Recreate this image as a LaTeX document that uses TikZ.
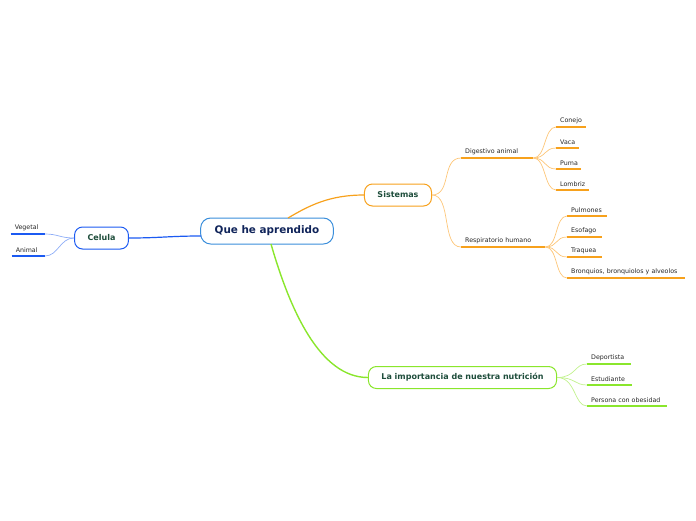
\documentclass[tikz,border=0pt]{standalone}
\usepackage{fontspec}
\setmainfont{DejaVu Sans}
\definecolor{mainblue}{HTML}{3A8EDB}
\definecolor{navy}{HTML}{10245A}
\definecolor{dkgreen}{HTML}{1E4D3B}
\definecolor{orng}{HTML}{F7A11C}
\definecolor{lorng}{HTML}{FDC678}
\definecolor{blu}{HTML}{1B5AF2}
\definecolor{lblu}{HTML}{8FAEF7}
\definecolor{grn}{HTML}{8AE62C}
\definecolor{lgrn}{HTML}{C2F28E}
\begin{document}
\begin{tikzpicture}[x=1pt,y=-1pt,
  topic/.style={draw, line width=1pt, fill=white, rounded corners=8pt, minimum height=22pt,
    inner xsep=13pt, font=\bfseries\fontsize{8}{9}\selectfont, text=dkgreen},
  leaf/.style={anchor=south west, inner xsep=4pt, inner ysep=3pt, font=\fontsize{6.3}{7}\selectfont, text=black!85},
  uline/.style={line width=1.5pt},
]
\useasboundingbox (0,0) rectangle (696,520);

% main
\node[draw=mainblue, line width=1pt, fill=white, rounded corners=10pt, minimum height=26pt,
  inner xsep=14pt, font=\bfseries\fontsize{10.4}{12}\selectfont, text=navy] (main) at (267,231) {Que he aprendido};

% topics
\node[topic, draw=orng] (sis) at (398,195) {Sistemas};
\node[topic, draw=blu] (cel) at (101.5,238) {Celula};
\node[topic, draw=grn] (imp) at (462.5,377.5) {La importancia de nuestra nutrición};

% main connectors
\coordinate (mtop) at (288,218);
\coordinate (mbot) at (271,244);
\coordinate (mleft) at (201,236);
\draw[orng, line width=1.2pt] (mtop) .. controls (310,205) and (330,195) .. (sis.west);
\draw[blu, line width=1.2pt] (mleft) .. controls (170,236) and (160,238) .. (cel.east);
\draw[grn, line width=1.4pt] (mbot) .. controls (290,310) and (320,377.5) .. (imp.west);

% Sistemas children
\node[leaf, minimum width=72pt, align=left, text width=64pt] (dig) at (461,158) {Digestivo animal};
\node[leaf, minimum width=84pt, text width=76pt] (res) at (461,247) {Respiratorio humano};
\draw[orng, uline] (dig.south west) -- (dig.south east);
\draw[orng, uline] (res.south west) -- (res.south east);
\draw[lorng, line width=0.7pt] (sis.east) .. controls (452,195) and (441,158) .. (dig.south west);
\draw[lorng, line width=0.7pt] (sis.east) .. controls (452,195) and (441,247) .. (res.south west);

% Digestivo leaves
\foreach \nm/\y/\w/\t in {con/127/30/Conejo, vac/148/23/Vaca, pum/169/25/Puma, lom/190/33/Lombriz}{
  \node[leaf, minimum width=\w pt, text width={\w pt-8pt}] (\nm) at (556,\y) {\t};
  \draw[orng, uline] (\nm.south west) -- (\nm.south east);
  \draw[lorng, line width=0.7pt] (dig.south east) .. controls (546,158) and (544,\y) .. (\nm.south west);
}

% Respiratorio leaves
\foreach \nm/\y/\w/\t in {pul/216/40/Pulmones, eso/237/35/Esofago, tra/257/35/Traquea, bro/278/118/{Bronquios, bronquiolos y alveolos}}{
  \node[leaf, minimum width=\w pt, text width={\w pt-8pt}] (\nm) at (567,\y) {\t};
  \draw[orng, uline] (\nm.south west) -- (\nm.south east);
  \draw[lorng, line width=0.7pt] (res.south east) .. controls (558,247) and (555,\y) .. (\nm.south west);
}

% Importancia leaves
\foreach \nm/\y/\w/\t in {dep/364/44/Deportista, est/385/45/Estudiante, per/406/80/Persona con obesidad}{
  \node[leaf, minimum width=\w pt, text width={\w pt-8pt}] (\nm) at (587,\y) {\t};
  \draw[grn, uline] (\nm.south west) -- (\nm.south east);
  \draw[lgrn, line width=0.7pt] (imp.east) .. controls (576,377.5) and (574,\y) .. (\nm.south west);
}

% Celula leaves
\node[leaf, anchor=south east, minimum width=34pt, text width=26pt] (veg) at (45,234) {Vegetal};
\node[leaf, anchor=south east, minimum width=33pt, text width=25pt] (ani) at (45,256) {Animal};
\draw[blu, uline] (veg.south west) -- (veg.south east);
\draw[blu, uline] (ani.south west) -- (ani.south east);
\draw[lblu, line width=0.7pt] (cel.west) .. controls (60,238) and (58,234) .. (veg.south east);
\draw[lblu, line width=0.7pt] (cel.west) .. controls (60,238) and (58,256) .. (ani.south east);
\end{tikzpicture}
\end{document}
